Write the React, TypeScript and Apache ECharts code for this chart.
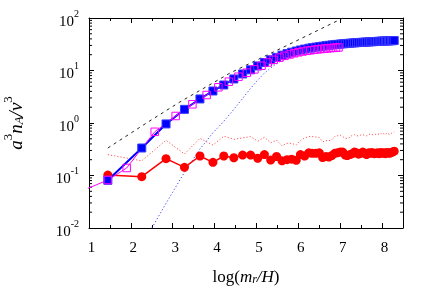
import React, { useEffect, useRef } from 'react';
import * as echarts from 'echarts';

// x positions (log(m_r/H)) of the blue / red series
const gridX = [1.45, 2.26, 2.84, 3.28, 3.65, 3.96, 4.22, 4.46, 4.67, 4.86, 5.03, 5.19, 5.34, 5.48, 5.61, 5.73, 5.84, 5.95, 6.05, 6.15, 6.25, 6.33, 6.42, 6.50, 6.58, 6.66, 6.73, 6.80, 6.87, 6.93, 7.00, 7.06, 7.12, 7.17, 7.23, 7.29, 7.34, 7.39, 7.44, 7.49, 7.54, 7.59, 7.63, 7.68, 7.72, 7.76, 7.81, 7.85, 7.89, 7.93, 7.97, 8.00, 8.04, 8.08, 8.11, 8.15, 8.18, 8.22, 8.25, 8.29];
const blueY = [0.081, 0.334, 0.96, 1.82, 2.87, 4.07, 5.3, 6.9, 8.6, 10.3, 12.2, 14.2, 16.0, 17.8, 19.6, 21.0, 22.3, 23.5, 24.6, 25.6, 26.5, 27.2, 27.9, 28.5, 29.1, 29.7, 30.2, 30.7, 31.1, 31.5, 31.9, 32.2, 32.5, 32.8, 33.1, 33.4, 33.6, 33.9, 34.1, 34.3, 34.5, 34.7, 34.9, 35.0, 35.2, 35.4, 35.5, 35.7, 35.8, 36.0, 36.1, 36.2, 36.4, 36.5, 36.6, 36.7, 36.8, 36.9, 37.0, 37.2];
const redY = [0.102, 0.095, 0.209, 0.143, 0.235, 0.178, 0.235, 0.218, 0.245, 0.245, 0.213, 0.25, 0.197, 0.23, 0.19, 0.20, 0.205, 0.195, 0.25, 0.235, 0.27, 0.265, 0.265, 0.27, 0.22, 0.23, 0.225, 0.24, 0.265, 0.27, 0.28, 0.28, 0.245, 0.24, 0.25, 0.26, 0.28, 0.27, 0.255, 0.265, 0.28, 0.265, 0.25, 0.27, 0.265, 0.275, 0.26, 0.265, 0.27, 0.26, 0.275, 0.265, 0.27, 0.26, 0.275, 0.27, 0.265, 0.275, 0.28, 0.29];
const redDotY = [0.25, 0.19, 0.47, 0.257, 0.51, 0.38, 0.56, 0.49, 0.52, 0.55, 0.45, 0.535, 0.42, 0.47, 0.37, 0.41, 0.41, 0.38, 0.46, 0.52, 0.55, 0.55, 0.54, 0.53, 0.44, 0.46, 0.46, 0.48, 0.55, 0.57, 0.59, 0.55, 0.51, 0.51, 0.53, 0.59, 0.6, 0.57, 0.57, 0.59, 0.6, 0.58, 0.57, 0.6, 0.62, 0.6, 0.59, 0.61, 0.6, 0.62, 0.64, 0.6, 0.63, 0.6, 0.64, 0.62, 0.6, 0.63, 0.66, 0.68];

const magentaX = [0.88, 1.45, 1.90, 2.57, 3.07, 3.47, 3.81, 4.09, 4.34, 4.57, 4.77, 4.95, 5.12, 5.27, 5.41, 5.55, 5.67, 5.79, 5.90, 6.00, 6.10, 6.20, 6.29, 6.38, 6.46, 6.54, 6.62, 6.69, 6.77, 6.83, 6.90, 6.96];
const magentaY = [0.053, 0.082, 0.139, 0.68, 1.36, 2.27, 3.41, 4.79, 6.12, 7.62, 9.08, 10.5, 12.3, 14.2, 16.0, 17.6, 19.0, 20.2, 21.3, 22.2, 23.0, 23.7, 24.3, 24.8, 25.3, 25.7, 26.1, 26.4, 26.7, 27.0, 27.2, 27.5];

const blueDotX = [2.26, 2.84, 3.28, 3.65, 3.96, 4.22, 4.46, 4.67, 4.86, 5.03, 5.19, 5.34, 5.48, 5.61, 5.73, 5.84, 5.95, 6.05, 6.25, 6.50, 6.80, 7.17, 7.63, 8.00, 8.29];
const blueDotY = [0.0046, 0.0295, 0.115, 0.32, 0.65, 1.08, 1.82, 2.95, 4.57, 6.6, 8.9, 11.2, 13.5, 15.5, 17.4, 18.5, 19.8, 21.0, 23.0, 25.0, 27.2, 29.0, 30.6, 31.8, 32.7];

const dashX = [1.45, 2.41, 3.17, 4.37, 5.75, 7.07, 7.2];
const dashY = [0.334, 1.045, 2.51, 8.96, 30.6, 100, 112];

const yMinorTicks = [0.02, 0.03, 0.04, 0.05, 0.06, 0.07, 0.08, 0.09, 0.2, 0.3, 0.4, 0.5, 0.6, 0.7, 0.8, 0.9, 2, 3, 4, 5, 6, 7, 8, 9, 20, 30, 40, 50, 60, 70, 80, 90];

const xTicksMin = 1;
const xTicksMax = 8.5;

const pairs = (xs: number[], ys: number[]) => xs.map((x, i) => [x, ys[i]]);

const FONT = 'Liberation Serif';

export default function App() {
  const ref = useRef<HTMLDivElement>(null);
  useEffect(() => {
    const chart = echarts.init(ref.current!, null, { renderer: 'svg' });
    const axisLine = { show: true, lineStyle: { color: '#000', width: 1 } };
    const tick = { show: true, inside: true, length: 5, lineStyle: { color: '#000', width: 1 } };
    const minorTick = { show: true, splitNumber: 2, length: 3, lineStyle: { color: '#000', width: 1 } };
    const option: any = {
      animation: false,
      grid: { left: 89, right: 33, top: 18, bottom: 77, containLabel: false, outerBoundsMode: 'none' },
      xAxis: [
        {
          type: 'value', min: xTicksMin, max: xTicksMax, interval: 1, position: 'bottom',
          axisLine, axisTick: tick, minorTick, splitLine: { show: false }, minorSplitLine: { show: false },
          axisLabel: { fontFamily: FONT, fontSize: 15, color: '#000', margin: 11, showMaxLabel: false, padding: [0, 0, 0, 5] },
          name: 'log({i|m}{sub|r}{i|/H})', nameLocation: 'middle', nameGap: 40,
          nameTextStyle: {
            fontFamily: FONT, fontSize: 17, color: '#000',
            rich: {
              i: { fontFamily: FONT, fontSize: 17, fontStyle: 'italic', color: '#000' },
              sub: { fontFamily: FONT, fontSize: 12, fontStyle: 'italic', color: '#000', verticalAlign: 'bottom', lineHeight: 12, padding: [7, 0, 0, 0] },
            },
          },
        },
        {
          type: 'value', min: xTicksMin, max: xTicksMax, interval: 1, position: 'top',
          axisLine, axisTick: tick, minorTick, splitLine: { show: false }, axisLabel: { show: false },
        },
      ],
      yAxis: [
        {
          type: 'log', logBase: 10, min: 0.01, max: 100, position: 'left',
          axisLine, axisTick: tick, splitLine: { show: false },
          axisLabel: {
            margin: 10,
            formatter: (v: number) => `{b|10}{s|${Math.round(Math.log10(v))}}`,
            rich: {
              b: { fontFamily: FONT, fontSize: 15, color: '#000', lineHeight: 20, verticalAlign: 'bottom' },
              s: { fontFamily: FONT, fontSize: 10, color: '#000', lineHeight: 12, verticalAlign: 'top' },
            },
          },
          name: '{i|a}{s|3}{i|n}{sub|A}{i|/v}{s|3}', nameLocation: 'middle', nameGap: 64, nameRotate: 90,
          nameTextStyle: {
            fontFamily: FONT, fontSize: 18, color: '#000',
            rich: {
              i: { fontFamily: FONT, fontSize: 19, fontStyle: 'italic', color: '#000', lineHeight: 24, verticalAlign: 'bottom' },
              s: { fontFamily: FONT, fontSize: 13, color: '#000', lineHeight: 13, verticalAlign: 'top' },
              sub: { fontFamily: FONT, fontSize: 13, fontStyle: 'italic', color: '#000', lineHeight: 13, verticalAlign: 'bottom' },
            },
          },
        },
        {
          type: 'log', logBase: 10, min: 0.01, max: 100, position: 'right',
          axisLine, axisTick: tick, splitLine: { show: false }, axisLabel: { show: false },
        },
      ],
      series: [
        {
          type: 'custom', xAxisIndex: 0, yAxisIndex: 0, silent: true,
          data: yMinorTicks.map((v) => [xTicksMin, v]),
          encode: { x: 0, y: 1 },
          renderItem: (params: any, api: any) => {
            const v = api.value(1);
            const pl = api.coord([xTicksMin, v]);
            const pr = api.coord([xTicksMax, v]);
            const st = { stroke: '#000', lineWidth: 1 };
            return {
              type: 'group',
              children: [
                { type: 'line', shape: { x1: pl[0], y1: pl[1], x2: pl[0] + 3, y2: pl[1] }, style: st },
                { type: 'line', shape: { x1: pr[0] - 3, y1: pr[1], x2: pr[0], y2: pr[1] }, style: st },
              ],
            };
          },
        },
        {
          type: 'line', data: pairs(gridX, redDotY), symbol: 'none', clip: true,
          lineStyle: { color: '#ff5050', width: 1, type: [1.2, 2] },
        },
        {
          type: 'line', data: pairs(blueDotX, blueDotY), symbol: 'none', clip: true,
          lineStyle: { color: '#4040ff', width: 1, type: [1.2, 2.2] },
        },
        {
          type: 'line', data: pairs(dashX, dashY), symbol: 'none', clip: true,
          lineStyle: { color: '#222', width: 1, type: [3, 4] },
        },
        {
          type: 'line', data: pairs(gridX, redY), symbol: 'circle', symbolSize: 9, clip: true,
          lineStyle: { color: '#ff0000', width: 1.5 }, itemStyle: { color: '#ff0000' },
        },
        {
          type: 'line', data: pairs(gridX, blueY), symbol: 'rect', symbolSize: 8, clip: true,
          lineStyle: { color: '#0000ff', width: 2 },
          itemStyle: { color: '#0000ff', borderColor: '#3a3aff', borderWidth: 1 },
        },
        {
          type: 'line', data: pairs(magentaX, magentaY), symbol: 'rect', symbolSize: 7.5, clip: true,
          lineStyle: { color: '#ff00ff', width: 1 },
          itemStyle: { color: 'rgba(0,0,0,0)', borderColor: '#ff00ff', borderWidth: 1 },
        },
      ],
    };
    chart.setOption(option);
    return () => chart.dispose();
  }, []);
  return <div ref={ref} style={{ position: 'fixed', left: 0, top: 0, width: 436, height: 305 }} />;
}
